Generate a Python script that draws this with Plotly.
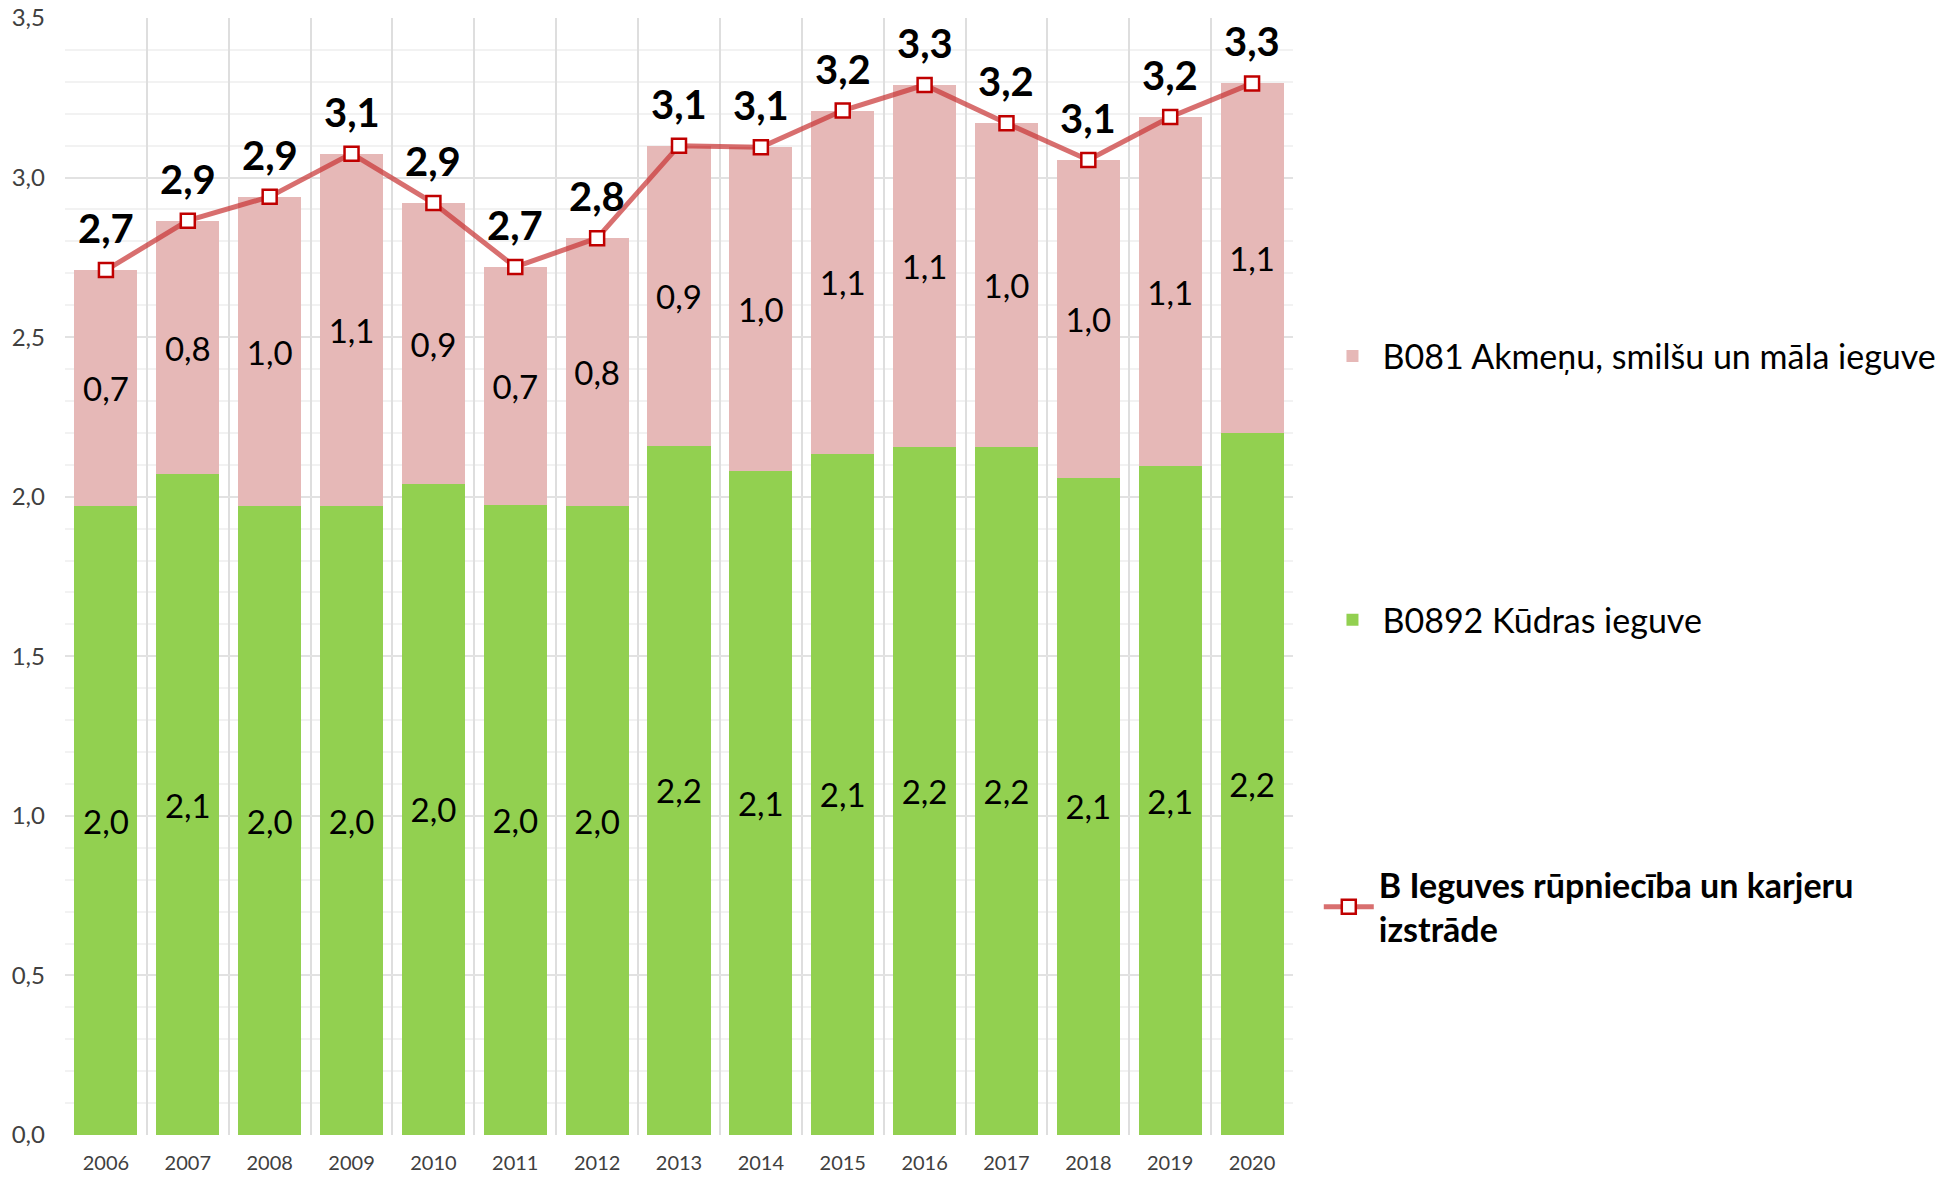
import plotly.graph_objects as go

years = ["2006", "2007", "2008", "2009", "2010", "2011", "2012", "2013",
         "2014", "2015", "2016", "2017", "2018", "2019", "2020"]
peat = [1.97, 2.07, 1.97, 1.97, 2.04, 1.975, 1.97, 2.16, 2.08, 2.135, 2.155, 2.155, 2.06, 2.095, 2.20]
stone = [0.74, 0.795, 0.97, 1.105, 0.88, 0.745, 0.84, 0.94, 1.015, 1.075, 1.135, 1.015, 0.995, 1.095, 1.095]
total = [2.71, 2.865, 2.94, 3.075, 2.92, 2.72, 2.81, 3.10, 3.095, 3.21, 3.29, 3.17, 3.055, 3.19, 3.295]

name_peat = "B0892 Kūdras ieguve"
name_stone = "B081 Akmeņu, smilšu un māla ieguve"
name_total = "<b>B Ieguves rūpniecība un karjeru<br>izstrāde</b>"

FONT = "Lato"

fig = go.Figure()
fig.add_trace(go.Bar(
    x=years, y=peat, name=name_peat, marker=dict(color="#92d050", line=dict(width=0)),
    texttemplate="%{y:.1f}", textposition="inside", insidetextanchor="middle",
    textfont=dict(family=FONT, size=33, color="#000000"), textangle=0,
    legend="legend2",
))
fig.add_trace(go.Bar(
    x=years, y=stone, name=name_stone, marker=dict(color="#e6b8b7", line=dict(width=0)),
    texttemplate="%{y:.1f}", textposition="inside", insidetextanchor="middle",
    textfont=dict(family=FONT, size=33, color="#000000"), textangle=0,
    legend="legend",
))
fig.add_trace(go.Scatter(
    x=years, y=total, name=name_total, mode="lines+markers",
    line=dict(color="rgba(200,50,50,0.7)", width=5),
    marker=dict(symbol="square", size=14, color="#ffffff", line=dict(color="#c00000", width=2.5)),
    legend="legend3",
))

# total labels placed above each point (category index on the x axis)
for i, v in enumerate(total):
    fig.add_annotation(x=i, y=v, xref="x", yref="y",
                       text="<b>" + f"{v:.1f}".replace(".", ",") + "</b>",
                       showarrow=False, yshift=42, yanchor="middle",
                       font=dict(family=FONT, size=40, color="#000000"))

legend_common = dict(xanchor="left", yanchor="middle", bgcolor="rgba(0,0,0,0)",
                     font=dict(family=FONT, size=34, color="#000000"), itemwidth=50)

fig.update_layout(
    width=1952, height=1178,
    margin=dict(l=57, r=667, t=10, b=51, autoexpand=False),
    plot_bgcolor="#ffffff", paper_bgcolor="#ffffff",
    barmode="stack", bargap=0.23,
    separators=", ",
    showlegend=True,
    font=dict(family=FONT, color="#404040"),
    legend=dict(x=1.024, y=0.697, **legend_common),
    legend2=dict(x=1.024, y=0.461, **legend_common),
    legend3=dict(x=1.021, y=0.204, **legend_common),
    xaxis=dict(
        type="category", tickson="boundaries", showgrid=True, gridcolor="#dedede", gridwidth=2,
        ticks="", showline=False, zeroline=False, automargin=False, tickangle=0,
        range=[-0.5, len(years) - 0.5], ticklabeloverflow="allow",
        tickfont=dict(family=FONT, size=20, color="#404040"), ticklabelstandoff=14,
    ),
    yaxis=dict(
        range=[0, 3.5], dtick=0.5, tickformat=".1f", showgrid=True, gridcolor="#e2e2e2", gridwidth=2,
        zeroline=False, showline=False, ticks="", automargin=False, ticklabeloverflow="allow",
        tickfont=dict(family=FONT, size=24, color="#404040"), ticklabelstandoff=19,
        minor=dict(dtick=0.1, showgrid=True, gridcolor="#f2f2f2", gridwidth=2),
    ),
)

fig.write_html("out.html")
